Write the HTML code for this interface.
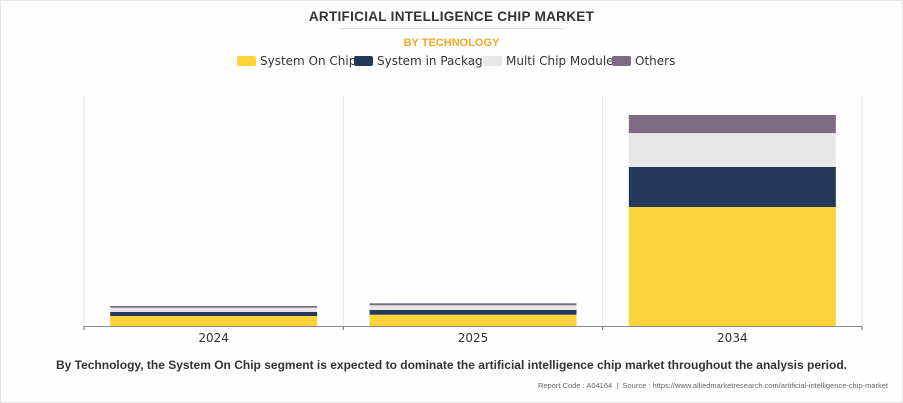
<!DOCTYPE html>
<html><head><meta charset="utf-8"><style>
body{margin:0;background:#fff;width:903px;height:403px;overflow:hidden;font-family:"Liberation Sans",sans-serif;}
#frame{position:absolute;left:0;top:0;width:901px;height:401px;border:1px solid #e4e4e4;background:#fefefe;}
.t{position:absolute;white-space:nowrap;}
</style></head><body>
<div id="frame"></div>
<div class="t" style="left:0;width:903px;text-align:center;top:9px;font-size:13.5px;font-weight:bold;color:#333;letter-spacing:0.3px">ARTIFICIAL INTELLIGENCE CHIP MARKET</div>
<div style="position:absolute;left:340px;top:28px;width:224px;height:1px;background:#ddd"></div>
<div class="t" style="left:0;width:903px;text-align:center;top:37px;font-size:11px;font-weight:bold;color:#f5a623">BY TECHNOLOGY</div>
<svg width="903" height="403" style="position:absolute;left:0;top:0">
<g id="legend"></g><g id="grid"></g><g id="bars"></g><g id="axis"></g>
</svg>
<div class="t" style="left:0;width:903px;text-align:center;top:358px;font-size:12px;font-weight:bold;color:#333">By Technology, the System On Chip segment is expected to dominate the artificial intelligence chip market throughout the analysis period.</div>
<div class="t" style="right:15px;top:381px;font-size:7.5px;color:#666">Report Code : A04164 &nbsp;|&nbsp; Source : https://www.alliedmarketresearch.com/artificial-intelligence-chip-market</div>
<script>
const categories=["2024","2025","2034"];
const seriesNames=["System On Chip","System in Package","Multi Chip Module","Others"];
const colors=["#fdd33a","#24385a","#e7e7e7","#7c6b82"];
const socValues=[10,11.3,119];
const sipValues=[4,4.7,40];
const mcmValues=[4.3,4.7,34];
const othersValues=[1.7,2,18];
const series=[socValues,sipValues,mcmValues,othersValues];
const NS="http://www.w3.org/2000/svg";
const plotL=84,plotR=862,plotB=326,plotT=96,yMax=230;
const band=(plotR-plotL)/categories.length;
const bw=207;
const y=v=>plotB-v/yMax*(plotB-plotT);
const xc=i=>plotL+band*(i+0.5);
function mk(tag,attrs,parent){const e=document.createElementNS(NS,tag);for(const k in attrs)e.setAttribute(k,attrs[k]);document.getElementById(parent).appendChild(e);return e;}
for(let i=0;i<=categories.length;i++){
 const g=mk("line",{x1:plotL+band*i,x2:plotL+band*i,y1:plotT,y2:plotB,stroke:"#e6e6e6"},"grid");
 
 
}
categories.forEach((c,i)=>{
 let base=0;
 series.forEach((s,k)=>{
  const r=mk("rect",{x:xc(i)-bw/2,y:y(base+s[i]),width:bw,height:y(base)-y(base+s[i]),fill:colors[k]},"bars");
  
  
  base+=s[i];
 });
 const t=mk("text",{x:xc(i),y:plotB+16,"text-anchor":"middle","font-size":"12","font-family":"DejaVu Sans, sans-serif",fill:"#333"},"axis");
 t.textContent=c;
 
 
 const tk=mk("line",{x1:plotL+band*i,x2:plotL+band*i,y1:plotB,y2:plotB+4,stroke:"#666"},"axis");
 
 
});
const tk2=mk("line",{x1:plotR,x2:plotR,y1:plotB,y2:plotB+4,stroke:"#666"},"axis");


const ax=mk("line",{x1:plotL,x2:plotR,y1:plotB+0.5,y2:plotB+0.5,stroke:"#888"},"axis");


const legX=[237,354,483,612];
seriesNames.forEach((n,k)=>{
 const r=mk("rect",{x:legX[k],y:56,width:19,height:10,rx:2,fill:colors[k]},"legend");
 
 
 const t=mk("text",{x:legX[k]+23,y:65,"font-size":"12","font-family":"DejaVu Sans, sans-serif",fill:"#333"},"legend");
 t.textContent=n;
 
 
});
</script>
</body></html>
